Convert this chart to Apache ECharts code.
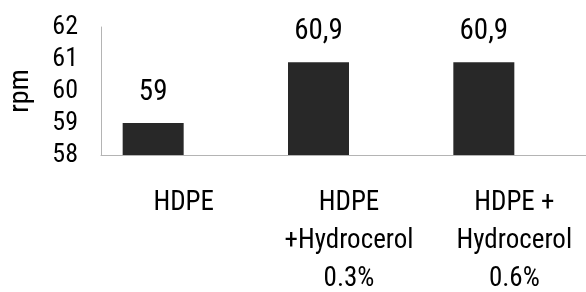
<!DOCTYPE html>
<html lang="en">
<head>
    <meta charset="UTF-8">
    <title>rpm chart</title>
    <script src="https://cdn.jsdelivr.net/npm/echarts@6/dist/echarts.min.js"></script>
    <style>
        html, body { margin: 0; padding: 0; background: #fff; }
        #chart { width: 586px; height: 292px; }
    </style>
</head>
<body>
<div id="chart"></div>
<script>
    const categories = ['HDPE', 'HDPE\n+Hydrocerol\n0.3%', 'HDPE +\nHydrocerol\n0.6%'];
    const rpmValues = [59, 60.9, 60.9];
    // second (empty) series, like the spreadsheet original, pushes bars left of centre
    const emptyValues = [null, null, null];
    const yTicks = { min: 58, max: 62, step: 1 };

    const narrow = 'Roboto Condensed, sans-serif';

    const chart = echarts.init(document.getElementById('chart'));
    chart.setOption({
        animation: false,
        grid: {
            left: 101, top: 27, width: 496, height: 128,
            containLabel: false,
            outerBoundsMode: 'none'
        },
        xAxis: {
            type: 'category',
            data: categories,
            axisLine: { lineStyle: { color: '#b4b4b4', width: 1 } },
            axisTick: { show: false },
            axisLabel: {
                interval: 0,
                margin: 29,
                color: '#000',
                fontFamily: narrow,
                fontSize: 27,
                lineHeight: 38
            }
        },
        yAxis: {
            type: 'value',
            min: yTicks.min,
            max: yTicks.max,
            interval: yTicks.step,
            name: 'rpm',
            nameLocation: 'middle',
            nameGap: 66,
            nameTextStyle: { color: '#000', fontFamily: narrow, fontSize: 28 },
            axisLine: { show: true, lineStyle: { color: '#b4b4b4', width: 1 } },
            axisTick: { show: false },
            splitLine: { show: false },
            axisLabel: { margin: 23, color: '#000', fontFamily: narrow, fontSize: 26 }
        },
        series: [
            {
                type: 'bar',
                data: rpmValues,
                barWidth: 61,
                barGap: '0%',
                itemStyle: { color: '#282828' },
                label: {
                    show: true,
                    position: 'top',
                    distance: 16,
                    color: '#000',
                    fontFamily: narrow,
                    fontSize: 29,
                    formatter: p => String(p.value).replace('.', ',')
                }
            },
            {
                type: 'bar',
                data: emptyValues,
                barWidth: 61
            }
        ]
    });
</script>
</body>
</html>
